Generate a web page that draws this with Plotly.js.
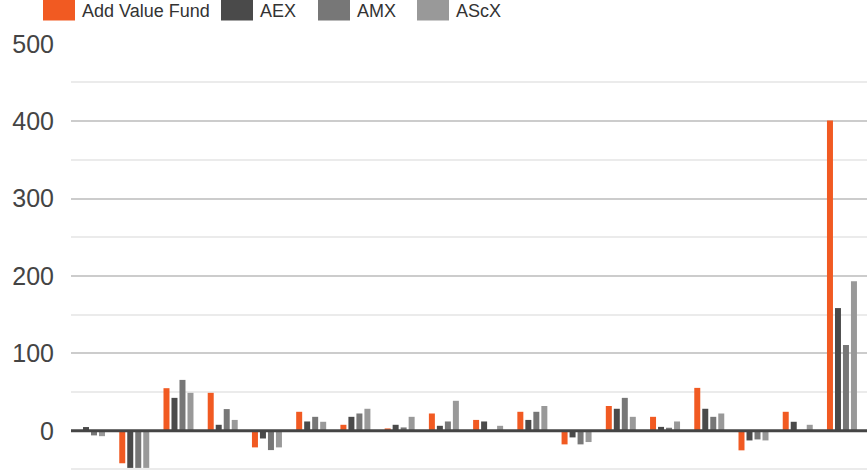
<!DOCTYPE html>
<html>
<head>
<meta charset="utf-8">
<script src="https://cdn.plot.ly/plotly-3.0.1.min.js"></script>
<style>html,body{margin:0;padding:0;background:#fff;}#chart{width:867px;height:471px;}</style>
</head>
<body>
<div id="chart"></div>
<script>
// Categories (their labels fall below the visible area of the reference)
const categories = ['1','2','3','4','5','6','7','8','9','10','11','12','13','14','15','16','17','18'];
const seriesNames = ['Add Value Fund', 'AEX', 'AMX', 'AScX'];
const addValueFund = [null, -42, 55, 49, -21.5, 24.5, 7.7, 3, 22.3, 14, 24.5, -17.6, 32, 18, 55.4, -25.3, 24.5, 401];
const aex          = [4.8, -48, 42.5, 7.7, -10, 12, 18, 7.7, 6.4, 12, 14, -8.6, 28.4, 5, 28.4, -12.5, 11.6, 158.5];
const amx          = [-6, -48, 65.7, 28, -25, 18, 22.3, 4.3, 12, 0, 24.5, -17.6, 42.5, 3.9, 18, -11.2, 0, 110.8];
const ascx         = [-7, -48, 49, 14, -21.5, 11.6, 28.4, 18, 38.7, 6.4, 32, -14.6, 18, 12, 22.3, -12.5, 7.7, 193.3];
const yTickVals = [0, 100, 200, 300, 400, 500];
const yTickText = ['0', '100', '200', '300', '400', '500'];

const colors = ['#f15a22', '#4a4a4a', '#777777', '#999999'];
const values = [addValueFund, aex, amx, ascx];

const W = 867, H = 471, ML = 71, MR = 0, MT = 43, MB = 0;
const PW = W - ML - MR, PH = H - MT - MB;
const px2x = p => (p - ML) / PW;
const px2y = p => (H - MB - p) / PH;

const traces = values.map((v, i) => ({
  type: 'bar',
  name: seriesNames[i],
  x: categories,
  y: v,
  marker: {color: colors[i]},
  hoverinfo: 'none'
}));

// legend drawn as paper-positioned swatches + text
const legendSwatch = [43, 221, 318, 417];
const legendText = [80, 258, 355, 454];
const shapes = [];
const annotations = [];
seriesNames.forEach((n, i) => {
  shapes.push({
    type: 'rect', xref: 'paper', yref: 'paper', layer: 'above',
    x0: px2x(legendSwatch[i]), x1: px2x(legendSwatch[i] + 32),
    y0: px2y(20.5), y1: px2y(-12),
    fillcolor: colors[i], line: {width: 0}
  });
  annotations.push({
    xref: 'paper', yref: 'paper', x: px2x(legendText[i]), y: px2y(10.5),
    xanchor: 'left', yanchor: 'middle', showarrow: false, text: n,
    font: {family: 'Liberation Sans, Arial', size: 18, color: '#333333'}
  });
});
// zero baseline over the bars
shapes.push({
  type: 'line', xref: 'paper', yref: 'y', layer: 'above',
  x0: 0, x1: 1, y0: 0, y1: 0,
  line: {color: '#454545', width: 3}
});

const layout = {
  width: W, height: H,
  margin: {l: ML, r: MR, t: MT, b: MB, pad: 0},
  paper_bgcolor: '#ffffff', plot_bgcolor: '#ffffff',
  barmode: 'group',
  bargap: 0.2766,
  bargroupgap: 0.25,
  showlegend: false,
  xaxis: {
    type: 'category', range: [-0.43, 17.566],
    showgrid: false, zeroline: false, showticklabels: false, ticks: '', showline: false, automargin: false
  },
  yaxis: {
    range: [-52, 501],
    tickmode: 'array', tickvals: yTickVals, ticktext: yTickText,
    showgrid: true, gridcolor: '#cccccc', gridwidth: 2,
    zeroline: false, ticks: '', showline: false, automargin: false,
    ticklabelstandoff: 16,
    tickfont: {family: 'Liberation Sans, Arial', size: 25, color: '#444444'},
    minor: {tickmode: 'linear', tick0: 0, dtick: 50, showgrid: true, gridcolor: '#ebebeb', gridwidth: 2, ticks: ''}
  },
  shapes: shapes,
  annotations: annotations
};

Plotly.newPlot('chart', traces, layout, {staticPlot: true, displayModeBar: false});
</script>
</body>
</html>
